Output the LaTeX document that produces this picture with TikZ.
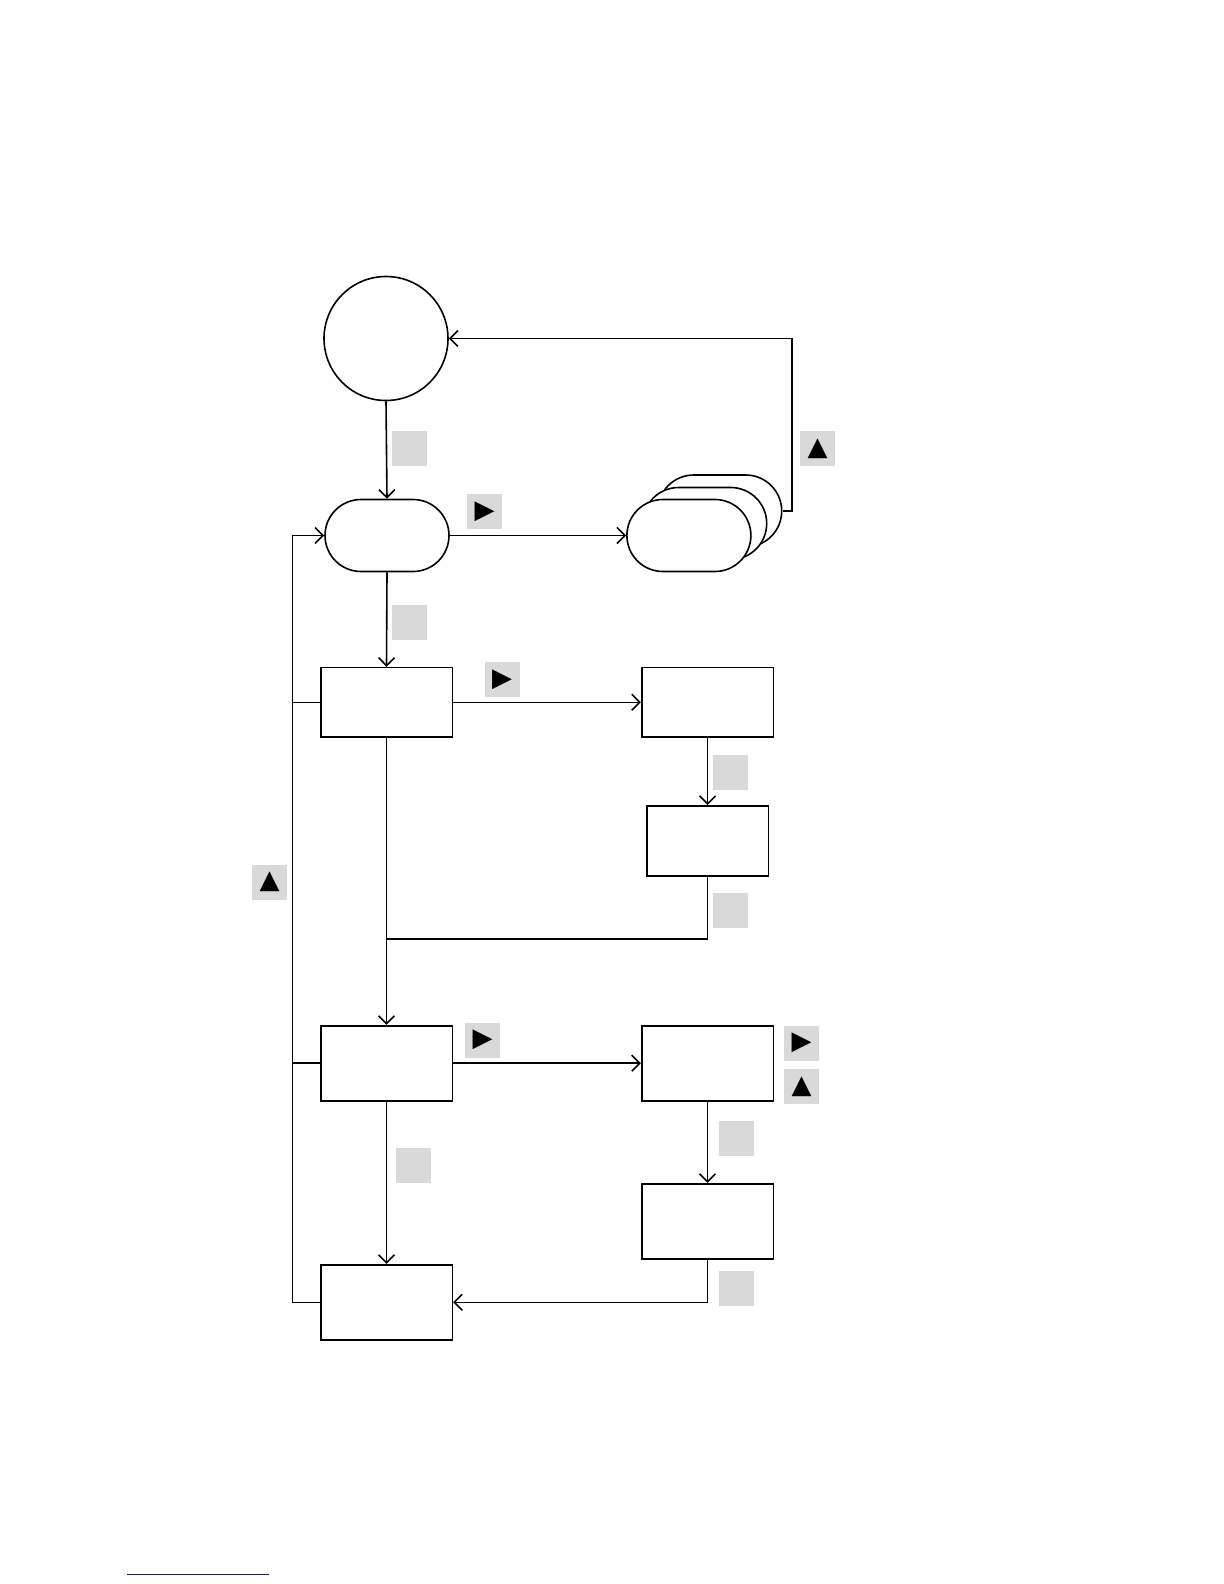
\documentclass[tikz,border=0pt]{standalone}
\usepackage{fontspec}
\newfontfamily\symfont{DejaVu Sans}
\usetikzlibrary{shapes.misc,arrows.meta}
\definecolor{lblgray}{RGB}{217,217,217}
\definecolor{linkblue}{RGB}{20,20,140}
\tikzset{
  every path/.style={line width=0.75pt},
  conn/.style={draw=black, line width=0.8pt},
  arr/.style={conn, -{Straight Barb[length=4pt,width=8pt,line width=0.8pt]}},
  stadium/.style={draw, line width=0.8pt, fill=white, rounded rectangle, minimum width=62pt, minimum height=36pt, inner sep=0pt},
  boxnode/.style={draw, line width=0.8pt, rectangle, inner sep=0pt},
  lbl/.style={fill=lblgray, minimum size=17.5pt, inner sep=0pt, text=black, font=\symfont\fontsize{13}{13}\selectfont},
}
\begin{document}
\begin{tikzpicture}[x=0.5pt,y=-0.5pt]
\useasboundingbox (0,0) rectangle (1224,1584);
% nodes
\node[draw, line width=0.8pt, circle, minimum size=62pt, inner sep=0pt] (circ) at (386,338.5) {};
\node[stadium] (stad) at (387,535.5) {};
\node[stadium] (back) at (719.7,511) {};
\node[stadium] (mid) at (704.7,523.5) {};
\node[stadium] (front) at (688.9,535.5) {};
\node[boxnode, minimum width=65.8pt, minimum height=34.7pt] (b3) at (386.5,702.3) {};
\node[boxnode, minimum width=65.8pt, minimum height=34.7pt] (b4) at (707.5,702.3) {};
\node[boxnode, minimum width=60.8pt, minimum height=35.2pt] (b5) at (707.5,841) {};
\node[boxnode, minimum width=65.8pt, minimum height=37.5pt] (b6) at (386.5,1063.2) {};
\node[boxnode, minimum width=65.8pt, minimum height=37.6pt] (b7) at (386.5,1302.3) {};
\node[boxnode, minimum width=65.8pt, minimum height=37.5pt] (b8) at (707.5,1063.2) {};
\node[boxnode, minimum width=65.8pt, minimum height=37.5pt] (b9) at (707.5,1221.2) {};
% helper coordinates
\coordinate (cr) at (791.7,511);
\coordinate (ct) at (791.7,338.5);
\coordinate (j1) at (707.5,939);
\coordinate (j2) at (386.5,939);
\coordinate (lt) at (292.5,535.5);
\coordinate (l3) at (292.5,702.3);
\coordinate (l6) at (292.5,1063.2);
\coordinate (l7) at (292.5,1302.3);
\coordinate (r9) at (707.5,1302.3);
% connectors
\draw[arr] (circ.south) -- (stad.north);
\draw[arr] (stad.east) -- (front.west);
\draw[arr] (back.east) -- (cr) -- (ct) -- (circ.east);
\draw[arr] (stad.south) -- (b3.north);
\draw[arr] (b3.east) -- (b4.west);
\draw[arr] (b4.south) -- (b5.north);
\draw[arr] (b3.south) -- (b6.north);
\draw[conn] (b5.south) -- (j1) -- (j2);
\draw[arr] (b6.east) -- (b8.west);
\draw[arr] (b8.south) -- (b9.north);
\draw[arr] (b9.south) -- (r9) -- (b7.east);
\draw[arr] (b6.south) -- (b7.north);
\draw[arr] (b6.west) -- (l6) -- (lt) -- (stad.west);
\draw[conn] (b3.west) -- (l3);
\draw[conn] (b7.west) -- (l7) -- (l6);
% labels
\node[lbl] (g1) at (409.5,448.5) {};
\node[lbl] (p1) at (484.5,511.5) {▶};
\node[lbl] (t1) at (817.5,448.5) {▲};
\node[lbl] (g2) at (409.5,622) {};
\node[lbl] (p2) at (502,679.5) {▶};
\node[lbl] (g3) at (730.5,772) {};
\node[lbl] (g4) at (730.5,910.5) {};
\node[lbl] (t2) at (269.7,882) {▲};
\node[lbl] (p3) at (482.5,1040) {▶};
\node[lbl] (p4) at (801.5,1043) {▶};
\node[lbl] (t3) at (801.5,1086.5) {▲};
\node[lbl] (g5) at (736.5,1138.5) {};
\node[lbl] (g6) at (736.5,1288.5) {};
\node[lbl] (g7) at (413.5,1165.5) {};
% underline at bottom
\draw[linkblue, line width=0.6pt] (127.3,1574.7) -- (269,1574.7);
\end{tikzpicture}
\end{document}
